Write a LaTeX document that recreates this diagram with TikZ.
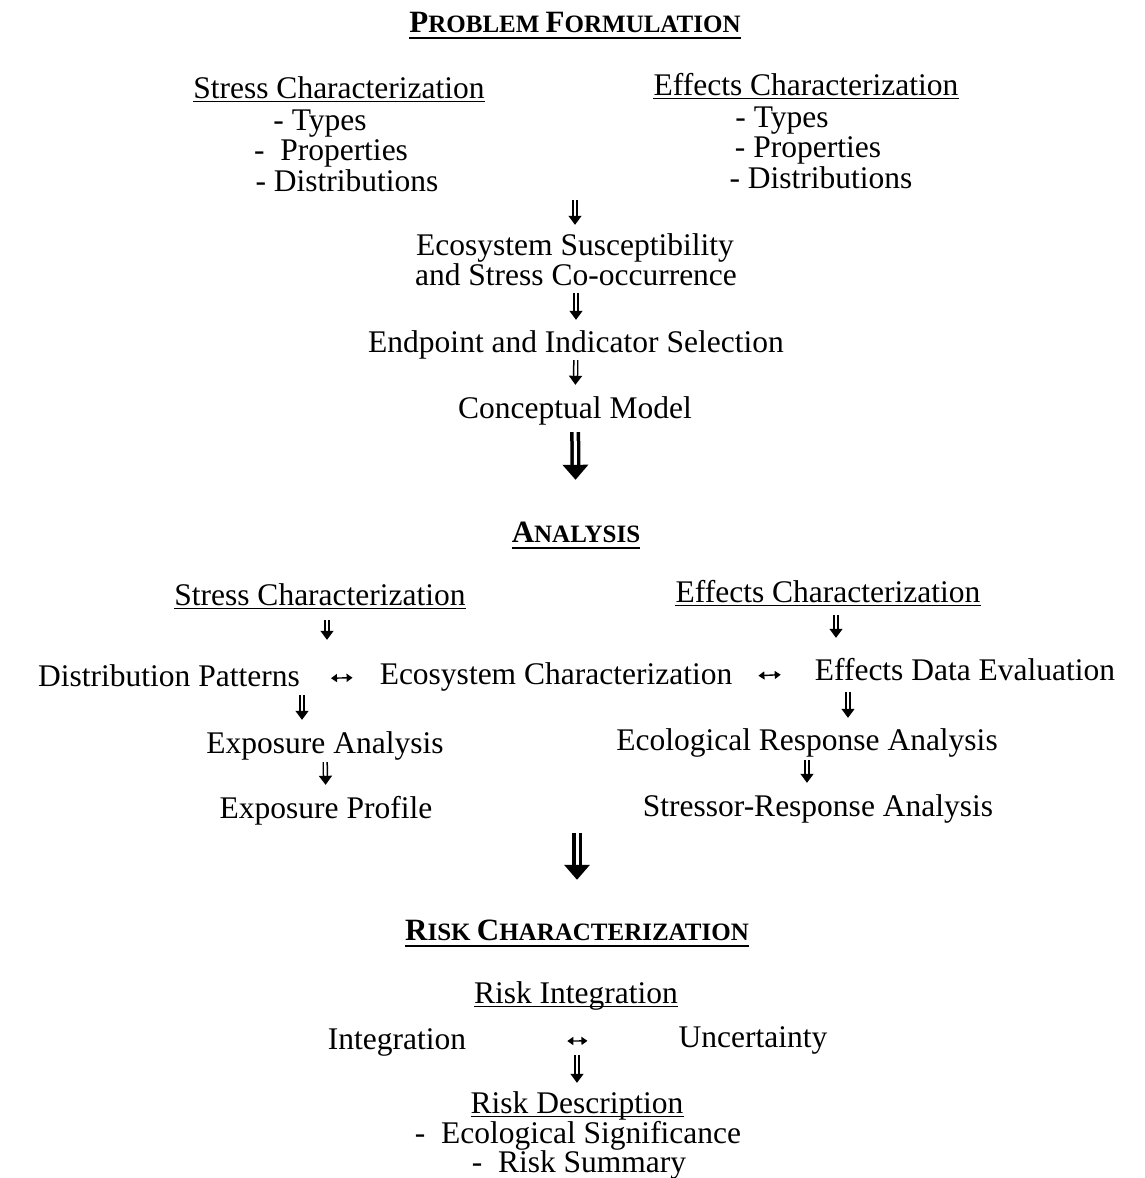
\documentclass[tikz,border=0pt]{standalone}
\usepackage{fontspec}
\setmainfont{Liberation Serif}
\usetikzlibrary{arrows.meta}
\newcommand\smc[2]{{\fontsize{31}{31}\selectfont #1}{\fontsize{25}{25}\selectfont #2}}
\tikzset{
  lbl/.style={inner sep=0pt, text height=22pt, text depth=8pt, font=\fontsize{31.5}{30}\selectfont},
  ul/.style={lbl, append after command={([yshift=5pt]\tikzlastnode.south west) edge[line width=1.3pt] ([yshift=5pt]\tikzlastnode.south east)}},
  hd/.style={inner sep=0pt, text height=20pt, text depth=6pt, font=\fontsize{25}{25}\selectfont\bfseries, append after command={(\tikzlastnode.south west) edge[line width=2.2pt] (\tikzlastnode.south east)}},
  sarr/.style={double, double distance=2.4pt, line width=1.5pt, -{Triangle[width=13pt,length=9pt]}},
  barr/.style={double, double distance=3pt, line width=3.5pt, -{Triangle[width=25pt,length=15pt]}},
  harr/.style={line width=1.4pt, {Triangle[width=8pt,length=6pt]}-{Triangle[width=8pt,length=6pt]}},
}
\begin{document}
\begin{tikzpicture}[x=1pt,y=-1pt]
\useasboundingbox (0,0) rectangle (1145,1178);
% problem formulation
\node[hd] (hpf) at (575,25) {\smc{P}{ROBLEM} \smc{F}{ORMULATION}};
\node[ul] (ssc1) at (339,91) {Stress Characterization};
\node[lbl] (st1) at (320,123) {- Types};
\node[lbl] (st2) at (331,153) {- \ Properties};
\node[lbl] (st3) at (347,184) {- Distributions};
\node[ul] (esc1) at (806,88) {Effects Characterization};
\node[lbl] (et1) at (782,120) {- Types};
\node[lbl] (et2) at (808,150) {- Properties};
\node[lbl] (et3) at (821,181) {- Distributions};
\node[lbl] (eco1) at (575,248) {Ecosystem Susceptibility};
\node[lbl] (eco2) at (576,278) {and Stress Co-occurrence};
\node[lbl] (ep) at (576,345) {Endpoint and Indicator Selection};
\node[lbl] (cm) at (575,411) {Conceptual Model};
\draw[sarr, shorten <=1pt, shorten >=8pt] (st3.south -| eco1.north) -- (eco1.north);
\draw[sarr, shorten >=10pt] (eco2) -- (ep);
\draw[sarr, shorten >=11pt] (ep) -- (cm);
% analysis
\node[hd] (han) at (576,535) {\smc{A}{NALYSIS}};
\draw[barr, shorten <=6pt, shorten >=42pt] (cm) -- (han);
\node[ul] (ssc2) at (320,598) {Stress Characterization};
\node[ul] (esc2) at (828,595) {Effects Characterization};
\node[lbl] (dp) at (169,679) {Distribution Patterns};
\node[lbl] (ec) at (556,677) {Ecosystem Characterization};
\node[lbl] (ede) at (965,673) {Effects Data Evaluation};
\node[lbl] (ea) at (325,746) {Exposure Analysis};
\node[lbl] (era) at (807,743) {Ecological Response Analysis};
\node[lbl] (exp) at (326,811) {Exposure Profile};
\node[lbl] (sra) at (818,809) {Stressor-Response Analysis};
\draw[sarr, shorten <=7pt, shorten >=24pt] (ssc2.south -| 327,0) -- (dp.north -| 327,0);
\draw[sarr, shorten <=5pt, shorten >=20pt] (esc2.south -| 836,0) -- (ede.north -| 836,0);
\draw[harr, yshift=5pt, shorten <=31pt, shorten >=27pt] (dp.east) -- (ec.west);
\draw[harr, yshift=5pt, shorten <=26pt, shorten >=34pt] (ec.east) -- (ede.west);
\draw[sarr, shorten <=1pt, shorten >=11pt] (dp.south -| 302,0) -- (ea.north -| 302,0);
\draw[sarr, shorten <=4pt, shorten >=10pt] (ede.south -| 848,0) -- (era.north -| 848,0);
\draw[sarr, shorten <=1pt, shorten >=11pt] (ea) -- (exp);
\draw[sarr, shorten <=2pt, shorten >=11pt] (era) -- (era |- sra.north);
% risk characterization
\node[hd] (hrc) at (577,933) {\smc{R}{ISK} \smc{C}{HARACTERIZATION}};
\draw[barr, shorten <=9pt, shorten >=40pt] (sra.south -| hrc.north) -- (hrc.north);
\node[ul] (ri) at (576,996) {Risk Integration};
\node[lbl] (int) at (397,1042) {Integration};
\node[lbl] (unc) at (753,1040) {Uncertainty};
\draw[harr, yshift=4pt, shorten <=101pt, shorten >=91pt] (int.east) -- (unc.west);
\node[ul] (rdesc) at (577,1106) {Risk Description};
\node[lbl] (rs1) at (578,1136) {- \ Ecological Significance};
\node[lbl] (rs2) at (579,1165) {- \ Risk Summary};
\draw[sarr, shorten <=-2pt, shorten >=8pt] (int.south -| rdesc.north) -- (rdesc.north);
\end{tikzpicture}
\end{document}
